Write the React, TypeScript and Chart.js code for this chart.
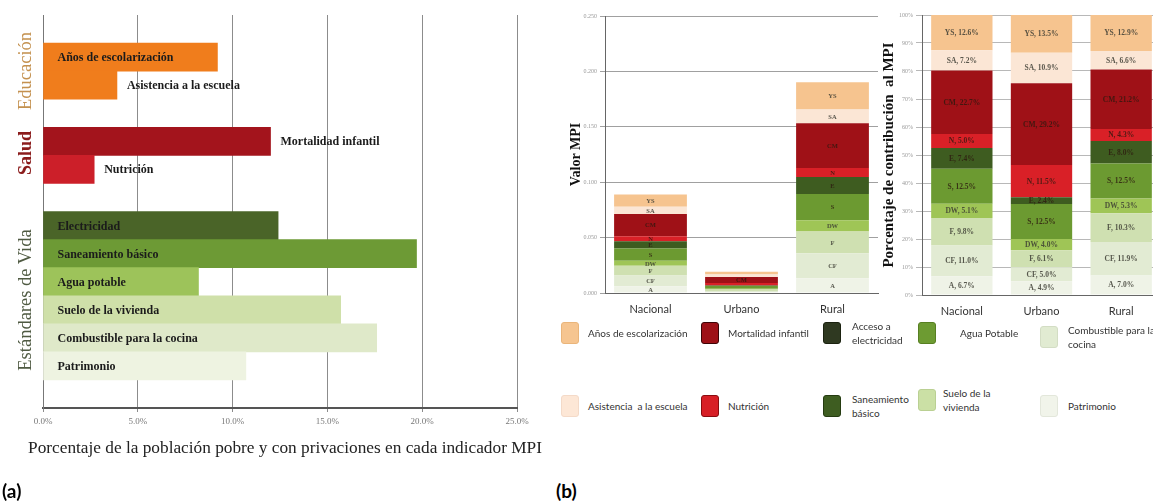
import React, { useEffect, useRef } from "react";
import { Chart, registerables } from "chart.js";

Chart.register(...registerables);

const SERIF = '"Liberation Serif", "Times New Roman", serif';
const SANS = 'Lato, "Open Sans", sans-serif';

// ---------- Panel (a) data ----------
const aCategories = [
  "",
  "Años de escolarización",
  "Asistencia a la escuela",
  "",
  "Mortalidad infantil",
  "Nutrición",
  "",
  "Electricidad",
  "Saneamiento básico",
  "Agua potable",
  "Suelo de la vivienda",
  "Combustible para la cocina",
  "Patrimonio",
  "",
];
const aValues = [null, 9.2, 3.9, null, 12.0, 2.7, null, 12.4, 19.7, 8.2, 15.7, 17.6, 10.7, null];
const aGroups = ["Educación", "Salud", "Estándares de Vida"];
const aAxisTitle = "Porcentaje de la población pobre y con privaciones en cada indicador MPI";

// styles for panel (a)
const aColors = [
  "transparent", "#f07d1c", "#f07d1c", "transparent", "#a3141c", "#cc1f29",
  "transparent", "#4a6428", "#6d9a35", "#9dc35a", "#cfe0a9", "#dfe9c9", "#eef3e1", "transparent",
];
const aLabelInside = [false, true, false, false, false, false, false, true, true, true, true, true, true, false];

// ---------- Panel (b) data ----------
const bRegions = ["Nacional", "Urbano", "Rural"];
const bCodes = ["A", "CF", "F", "DW", "S", "E", "N", "CM", "SA", "YS"];

// MPI value contributions (Valor MPI)
const mpiA = [0.006, 0.0009, 0.0133];
const mpiCF = [0.0098, 0.001, 0.0226];
const mpiF = [0.0087, 0.0012, 0.0196];
const mpiDW = [0.0045, 0.0008, 0.0101];
const mpiS = [0.0111, 0.0024, 0.0238];
const mpiE = [0.0066, 0.0005, 0.0152];
const mpiN = [0.0045, 0.0022, 0.0082];
const mpiCM = [0.0202, 0.0055, 0.0403];
const mpiSA = [0.0064, 0.0021, 0.0125];
const mpiYS = [0.0112, 0.0026, 0.0245];

// Percentage contribution to MPI
const pctA = [6.7, 4.9, 7.0];
const pctCF = [11.0, 5.0, 11.9];
const pctF = [9.8, 6.1, 10.3];
const pctDW = [5.1, 4.0, 5.3];
const pctS = [12.5, 12.5, 12.5];
const pctE = [7.4, 2.4, 8.0];
const pctN = [5.0, 11.5, 4.3];
const pctCM = [22.7, 29.2, 21.2];
const pctSA = [7.2, 10.9, 6.6];
const pctYS = [12.6, 13.5, 12.9];

const mpiSeries = [mpiA, mpiCF, mpiF, mpiDW, mpiS, mpiE, mpiN, mpiCM, mpiSA, mpiYS];
const pctSeries = [pctA, pctCF, pctF, pctDW, pctS, pctE, pctN, pctCM, pctSA, pctYS];

const bColors = ["#eff3e7", "#e2ebd3", "#cfe0b1", "#9fc556", "#6c9a31", "#3e5c20", "#d92027", "#9f1117", "#fbe6d5", "#f6c48f"];

const legendItems = [
  { lines: ["Años de escolarización"], color: "#f6c590", border: "#eab57a", sx: 561, tx: 588, cy: 333 },
  { lines: ["Mortalidad infantil"], color: "#9e1117", border: "#3e0406", sx: 701, tx: 728, cy: 333 },
  { lines: ["Acceso a", "electricidad"], color: "#2f3921", border: "#1b2210", sx: 823, tx: 852, cy: 333 },
  { lines: ["Agua Potable"], color: "#6d9b32", border: "#577f22", sx: 918, tx: 960, cy: 333 },
  { lines: ["Combustible para la", "cocina"], color: "#e1ebd2", border: "#d3ddc4", sx: 1040, tx: 1068, cy: 337 },
  { lines: ["Asistencia  a la escuela"], color: "#fde7d6", border: "#f4dac8", sx: 561, tx: 588, cy: 406 },
  { lines: ["Nutrición"], color: "#d71f26", border: "#8a0c10", sx: 701, tx: 728, cy: 406 },
  { lines: ["Saneamiento", "básico"], color: "#3e5d21", border: "#253b11", sx: 823, tx: 852, cy: 406 },
  { lines: ["Suelo de la", "vivienda"], color: "#cbe0a5", border: "#bad093", sx: 918, tx: 943, cy: 400 },
  { lines: ["Patrimonio"], color: "#f1f4ea", border: "#e3e7db", sx: 1040, tx: 1068, cy: 406 },
];

// ---------- plugins ----------
const aLabelPlugin = {
  id: "aLabels",
  afterDatasetsDraw(chart: any) {
    const ctx = chart.ctx;
    const meta = chart.getDatasetMeta(0);
    ctx.save();
    ctx.font = `bold 12px ${SERIF}`;
    ctx.fillStyle = "#1b1b1b";
    ctx.textBaseline = "middle";
    ctx.textAlign = "left";
    meta.data.forEach((bar: any, i: number) => {
      if (aValues[i] == null) return;
      const p = bar.getProps(["x", "y", "base"], true);
      const tx = aLabelInside[i] ? p.base + 14 : p.x + 10;
      ctx.fillText(aCategories[i], tx, p.y + 1);
    });
    ctx.restore();
  },
};

function segmentLabelPlugin(id: string, withValue: boolean, fontSize: number, minH: number) {
  return {
    id,
    afterDatasetsDraw(chart: any) {
      const ctx = chart.ctx;
      ctx.save();
      ctx.font = `bold ${fontSize}px ${SERIF}`;
      ctx.textAlign = "center";
      ctx.textBaseline = "middle";
      chart.data.datasets.forEach((ds: any, di: number) => {
        const meta = chart.getDatasetMeta(di);
        meta.data.forEach((bar: any, i: number) => {
          const p = bar.getProps(["x", "y", "base"], true);
          const h = Math.abs(p.base - p.y);
          if (h < minH) return;
          const v = ds.data[i];
          const dark = di >= 4 && di <= 7;
          ctx.fillStyle = dark ? "rgba(45,25,15,0.8)" : "rgba(60,60,50,0.85)";
          const txt = withValue ? `${bCodes[di]}, ${v.toFixed(1)}%` : bCodes[di];
          ctx.fillText(txt, p.x, (p.y + p.base) / 2 + 0.5);
        });
      });
      ctx.restore();
    },
  };
}

function makeStackDatasets(series: number[][], barPct: number) {
  return bCodes.map((code, k) => ({
    label: code,
    data: series[k],
    backgroundColor: bColors[k],
    borderWidth: 0,
    barPercentage: barPct,
    categoryPercentage: 1,
    stack: "s",
  }));
}

export default function App() {
  const refA = useRef<HTMLCanvasElement>(null);
  const refB1 = useRef<HTMLCanvasElement>(null);
  const refB2 = useRef<HTMLCanvasElement>(null);

  useEffect(() => {
    const charts: Chart[] = [];

    charts.push(
      new Chart(refA.current as HTMLCanvasElement, {
        type: "bar",
        data: {
          labels: aCategories,
          datasets: [
            {
              data: aValues as any,
              backgroundColor: aColors,
              borderWidth: 0,
              barPercentage: 1,
              categoryPercentage: 1,
            },
          ],
        },
        options: {
          indexAxis: "y",
          animation: false,
          responsive: false,
          layout: { padding: { top: 15, right: 43, left: 0, bottom: 0 } },
          plugins: { legend: { display: false }, tooltip: { enabled: false } },
          scales: {
            x: {
              type: "linear",
              min: 0,
              max: 25,
              ticks: {
                stepSize: 5,
                callback: (v: any) => Number(v).toFixed(1) + "%",
                font: { family: SERIF, size: 9 },
                color: "#777",
                padding: 4,
              },
              grid: { color: "#8c8c8c", lineWidth: 1, tickLength: 4 },
              border: { color: "#555", width: 2 },
              afterFit: (s: any) => {
                s.height = 54;
              },
            },
            y: {
              type: "category",
              ticks: { display: false },
              grid: { display: false },
              border: { color: "#777", width: 1 },
              afterFit: (s: any) => {
                s.width = 43;
              },
            },
          },
        } as any,
        plugins: [aLabelPlugin],
      })
    );

    charts.push(
      new Chart(refB1.current as HTMLCanvasElement, {
        type: "bar",
        data: { labels: bRegions, datasets: makeStackDatasets(mpiSeries, 0.8) },
        options: {
          animation: false,
          responsive: false,
          layout: { padding: { top: 16, right: 7, left: 0, bottom: 0 } },
          plugins: { legend: { display: false }, tooltip: { enabled: false } },
          scales: {
            x: {
              stacked: true,
              ticks: { font: { family: SANS, size: 11 }, color: "#333", padding: 2 },
              grid: { display: false },
              border: { color: "#666", width: 1 },
              afterFit: (s: any) => {
                s.height = 27;
              },
            },
            y: {
              stacked: true,
              min: 0,
              max: 0.25,
              ticks: {
                stepSize: 0.05,
                callback: (v: any) => Number(v).toFixed(3),
                font: { family: SERIF, size: 6 },
                color: "#999",
                padding: 3,
              },
              grid: { color: "#a0a0a0", lineWidth: 1, tickLength: 5 },
              border: { color: "#666", width: 1 },
              title: {
                display: true,
                text: "Valor MPI",
                font: { family: SERIF, size: 14, weight: "bold" },
                color: "#111",
                padding: { top: 8, bottom: 0 },
              },
              afterFit: (s: any) => {
                s.width = 45;
              },
            },
          },
        } as any,
        plugins: [segmentLabelPlugin("b1Labels", false, 6.5, 4.5)],
      })
    );

    charts.push(
      new Chart(refB2.current as HTMLCanvasElement, {
        type: "bar",
        data: { labels: bRegions, datasets: makeStackDatasets(pctSeries, 0.77) },
        options: {
          animation: false,
          responsive: false,
          layout: { padding: { top: 15, right: 0, left: 0, bottom: 0 } },
          plugins: { legend: { display: false }, tooltip: { enabled: false } },
          scales: {
            x: {
              stacked: true,
              ticks: { font: { family: SANS, size: 11 }, color: "#333", padding: 2 },
              grid: { display: false },
              border: { color: "#666", width: 1 },
              afterFit: (s: any) => {
                s.height = 25;
              },
            },
            y: {
              stacked: true,
              min: 0,
              max: 100,
              ticks: {
                stepSize: 10,
                callback: (v: any) => v + "%",
                font: { family: SERIF, size: 6 },
                color: "#999",
                padding: 3,
              },
              grid: { color: "#b8b8b8", lineWidth: 1, tickLength: 6 },
              border: { color: "#666", width: 1 },
              title: {
                display: true,
                text: "Porcentaje de contribución  al MPI",
                font: { family: SERIF, size: 15, weight: "bold" },
                color: "#111",
                padding: { top: 0, bottom: 0 },
              },
              afterFit: (s: any) => {
                s.width = 42;
              },
            },
          },
        } as any,
        plugins: [segmentLabelPlugin("b2Labels", true, 7.5, 4.5)],
      })
    );

    return () => charts.forEach((c) => c.destroy());
  }, []);

  const abs = (l: number, t: number, extra: any = {}) => ({ position: "absolute" as const, left: l, top: t, ...extra });
  const rot = (cx: number, cy: number, extra: any) => ({
    position: "absolute" as const,
    left: cx,
    top: cy,
    transform: "translate(-50%, -50%) rotate(-90deg)",
    whiteSpace: "nowrap" as const,
    fontFamily: SERIF,
    lineHeight: 1,
    ...extra,
  });

  return (
    <div
      style={{
        position: "absolute",
        left: 0,
        top: 0,
        width: 1153,
        height: 504,
        overflow: "hidden",
        background: "#fff",
      }}
    >
      <canvas ref={refA} width={560} height={462} style={abs(0, 0, { width: 560, height: 462 })} />
      <canvas ref={refB1} width={325} height={320} style={abs(560, 0, { width: 325, height: 320 })} />
      <canvas ref={refB2} width={281} height={320} style={abs(880, 0, { width: 281, height: 320 })} />

      <div
        style={{
          position: "absolute",
          left: 285,
          top: 448,
          transform: "translate(-50%, -50%)",
          whiteSpace: "nowrap",
          fontFamily: SERIF,
          fontSize: 17.3,
          lineHeight: 1,
          color: "#222",
        }}
      >
        {aAxisTitle}
      </div>

      <div style={rot(25, 71, { fontSize: 18.5, color: "#c4914f" })}>{aGroups[0]}</div>
      <div style={rot(25, 153, { fontSize: 18, fontWeight: "bold", color: "#8b1c1c" })}>{aGroups[1]}</div>
      <div style={rot(25, 300, { fontSize: 18.5, color: "#4f5a42" })}>{aGroups[2]}</div>

      {legendItems.map((it, i) => (
        <React.Fragment key={i}>
          <div
            style={abs(it.sx, it.cy - 11, {
              width: 16,
              height: 20,
              background: it.color,
              border: `1px solid ${it.border}`,
              borderRadius: 3,
            })}
          />
          <div
            style={abs(it.tx, it.cy - (it.lines.length * 14) / 2, {
              fontFamily: SANS,
              fontSize: 10,
              lineHeight: "14px",
              color: "#333",
              whiteSpace: "pre",
            })}
          >
            {it.lines.map((l, j) => (
              <div key={j}>{l}</div>
            ))}
          </div>
        </React.Fragment>
      ))}

      <div style={abs(2, 479, { fontFamily: SANS, fontWeight: "bold", fontSize: 19, color: "#000" })}>(a)</div>
      <div style={abs(556, 479, { fontFamily: SANS, fontWeight: "bold", fontSize: 19, color: "#000" })}>(b)</div>
    </div>
  );
}
